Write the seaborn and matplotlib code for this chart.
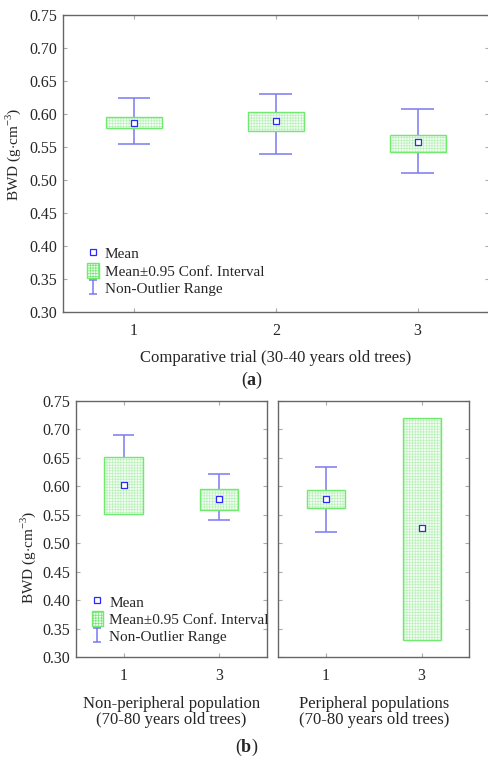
import matplotlib
matplotlib.use("Agg")

import numpy as np

import matplotlib.pyplot as plt

import seaborn as sns

from matplotlib.lines import Line2D

from matplotlib.patches import Patch, Rectangle

from matplotlib.path import Path


# ==========================================
# DATA
# ==========================================

# (a) comparative trial, 30-40 years old trees
trial_labels = ["1", "2", "3"]
trial_mean = [0.587, 0.590, 0.557]
trial_ci_low = [0.579, 0.575, 0.543]
trial_ci_high = [0.596, 0.603, 0.568]
trial_range_low = [0.554, 0.539, 0.510]
trial_range_high = [0.624, 0.630, 0.607]

# (b) non-peripheral population, 70-80 years old trees
nonper_labels = ["1", "3"]
nonper_mean = [0.602, 0.577]
nonper_ci_low = [0.551, 0.558]
nonper_ci_high = [0.651, 0.595]
nonper_range_low = [0.556, 0.541]
nonper_range_high = [0.690, 0.622]

# (b) peripheral populations, 70-80 years old trees
periph_labels = ["1", "3"]
periph_mean = [0.577, 0.526]
periph_ci_low = [0.561, 0.331]
periph_ci_high = [0.593, 0.720]
periph_range_low = [0.520, 0.400]
periph_range_high = [0.634, 0.650]

y_ticks = [0.30, 0.35, 0.40, 0.45, 0.50, 0.55, 0.60, 0.65, 0.70, 0.75]


# ==========================================
# STYLE
# ==========================================

sns.set_style("ticks")

plt.rcParams["font.family"] = ["Liberation Serif", "DejaVu Serif"]
plt.rcParams["mathtext.fontset"] = "custom"
plt.rcParams["mathtext.rm"] = "Liberation Serif"
plt.rcParams["mathtext.bf"] = "Liberation Serif:bold"
plt.rcParams["hatch.linewidth"] = 0.5

WHISKER_COLOR = "#7b7bf0"
MEAN_COLOR = "#2a2aff"
BOX_EDGE = "#6fea6f"
BOX_HATCH = "#b9f2b9"
SPINE_COLOR = "#666666"
FONT_SIZE = 11.5

Y_LABEL = r"BWD (g$\cdot$cm$^{-3}$)"


# I-shaped marker for the legend entry
range_marker = Path(
    [(-0.55, -1), (0.55, -1), (0, -1), (0, 1), (-0.55, 1), (0.55, 1)],
    [Path.MOVETO, Path.LINETO, Path.MOVETO, Path.LINETO,
     Path.MOVETO, Path.LINETO]
)


def draw_panel(ax, labels, means, ci_low, ci_high,
               r_low, r_high, box_w, cap_w):

    positions = np.arange(len(labels))

    # whiskers (non-outlier range)
    ax.vlines(positions, r_low, r_high,
              color=WHISKER_COLOR, linewidth=1.1, zorder=2)
    ax.hlines(r_low, positions - cap_w / 2, positions + cap_w / 2,
              color=WHISKER_COLOR, linewidth=1.1, zorder=2)
    ax.hlines(r_high, positions - cap_w / 2, positions + cap_w / 2,
              color=WHISKER_COLOR, linewidth=1.1, zorder=2)

    # confidence interval boxes
    for pos, lo, hi in zip(positions, ci_low, ci_high):

        ax.add_patch(Rectangle(
            (pos - box_w / 2, lo), box_w, hi - lo,
            facecolor="#f4fdf4", edgecolor=BOX_HATCH,
            hatch="++++++", linewidth=0, zorder=3
        ))

        ax.add_patch(Rectangle(
            (pos - box_w / 2, lo), box_w, hi - lo,
            fill=False, edgecolor=BOX_EDGE, linewidth=1.0, zorder=4
        ))

    # means
    sns.scatterplot(
        x=positions, y=means, ax=ax,
        marker="s", s=18, facecolor="white",
        edgecolor=MEAN_COLOR, linewidth=0.9, zorder=5
    )

    ax.set_xticks(positions)
    ax.set_xticklabels(labels)
    ax.set_xlim(-0.5, len(labels) - 0.5)
    ax.set_ylim(0.30, 0.75)
    ax.set_yticks(y_ticks)
    ax.set_yticklabels([f"{t:.2f}" for t in y_ticks])

    ax.tick_params(direction="in", length=3, width=0.8,
                   color="#aaaaaa", top=True, right=True,
                   labelsize=FONT_SIZE, pad=4)
    ax.tick_params(axis="x", pad=8)

    for spine in ax.spines.values():
        spine.set_color(SPINE_COLOR)
        spine.set_linewidth(1.0)


def add_legend(ax, x0, y0):

    handles = [
        Line2D([], [], linestyle="none", marker="s", markersize=4.5,
               markerfacecolor="white", markeredgecolor=MEAN_COLOR,
               markeredgewidth=0.9),
        Patch(facecolor="#f4fdf4", edgecolor=BOX_EDGE,
              hatch="++++++", linewidth=1.0),
        Line2D([], [], linestyle="none", marker=range_marker,
               markersize=10, markerfacecolor="none",
               markeredgecolor=WHISKER_COLOR, markeredgewidth=1.1),
    ]

    ax.legend(
        handles,
        ["Mean", "Mean\u00b10.95 Conf. Interval", "Non-Outlier Range"],
        loc="lower left", bbox_to_anchor=(x0, y0),
        frameon=False, fontsize=FONT_SIZE - 0.5,
        handlelength=0.75, handleheight=1.1, handletextpad=0.4,
        labelspacing=0.12, borderaxespad=0.2
    )


# ==========================================
# FIGURE
# ==========================================

fig = plt.figure(figsize=(4.89, 7.59), dpi=100)

ax_a = fig.add_axes([0.129, 0.589, 0.87, 0.391])
ax_b1 = fig.add_axes([0.155, 0.134, 0.391, 0.338])
ax_b2 = fig.add_axes([0.569, 0.134, 0.391, 0.338])

draw_panel(ax_a, trial_labels, trial_mean, trial_ci_low, trial_ci_high,
           trial_range_low, trial_range_high, 0.395, 0.23)
draw_panel(ax_b1, nonper_labels, nonper_mean, nonper_ci_low,
           nonper_ci_high, nonper_range_low, nonper_range_high,
           0.40, 0.225)
draw_panel(ax_b2, periph_labels, periph_mean, periph_ci_low,
           periph_ci_high, periph_range_low, periph_range_high,
           0.40, 0.225)

ax_b2.set_yticklabels([])

add_legend(ax_a, 0.035, 0.023)
add_legend(ax_b1, 0.035, 0.015)

ax_a.set_ylabel(Y_LABEL, fontsize=FONT_SIZE - 0.5)
ax_a.yaxis.set_label_coords(-0.095, 0.53)
ax_b1.set_ylabel(Y_LABEL, fontsize=FONT_SIZE - 0.5)
ax_b1.yaxis.set_label_coords(-0.2, 0.39)

ax_a.set_xlabel("Comparative trial (30-40 years old trees)",
                fontsize=FONT_SIZE + 0.5, labelpad=8)
ax_b1.set_xlabel("Non-peripheral population\n(70-80 years old trees)",
                 fontsize=FONT_SIZE + 0.5, labelpad=8, linespacing=1.05)
ax_b2.set_xlabel("Peripheral populations\n(70-80 years old trees)",
                 fontsize=FONT_SIZE + 0.5, labelpad=8, linespacing=1.05)

fig.text(0.515, 1 - 380 / 759, r"($\mathbf{a}$)", ha="center",
         va="center", fontsize=13)
fig.text(0.505, 1 - 747 / 759, r"($\mathbf{b}$)", ha="center",
         va="center", fontsize=13)

fig.savefig("out.png", dpi=100)
